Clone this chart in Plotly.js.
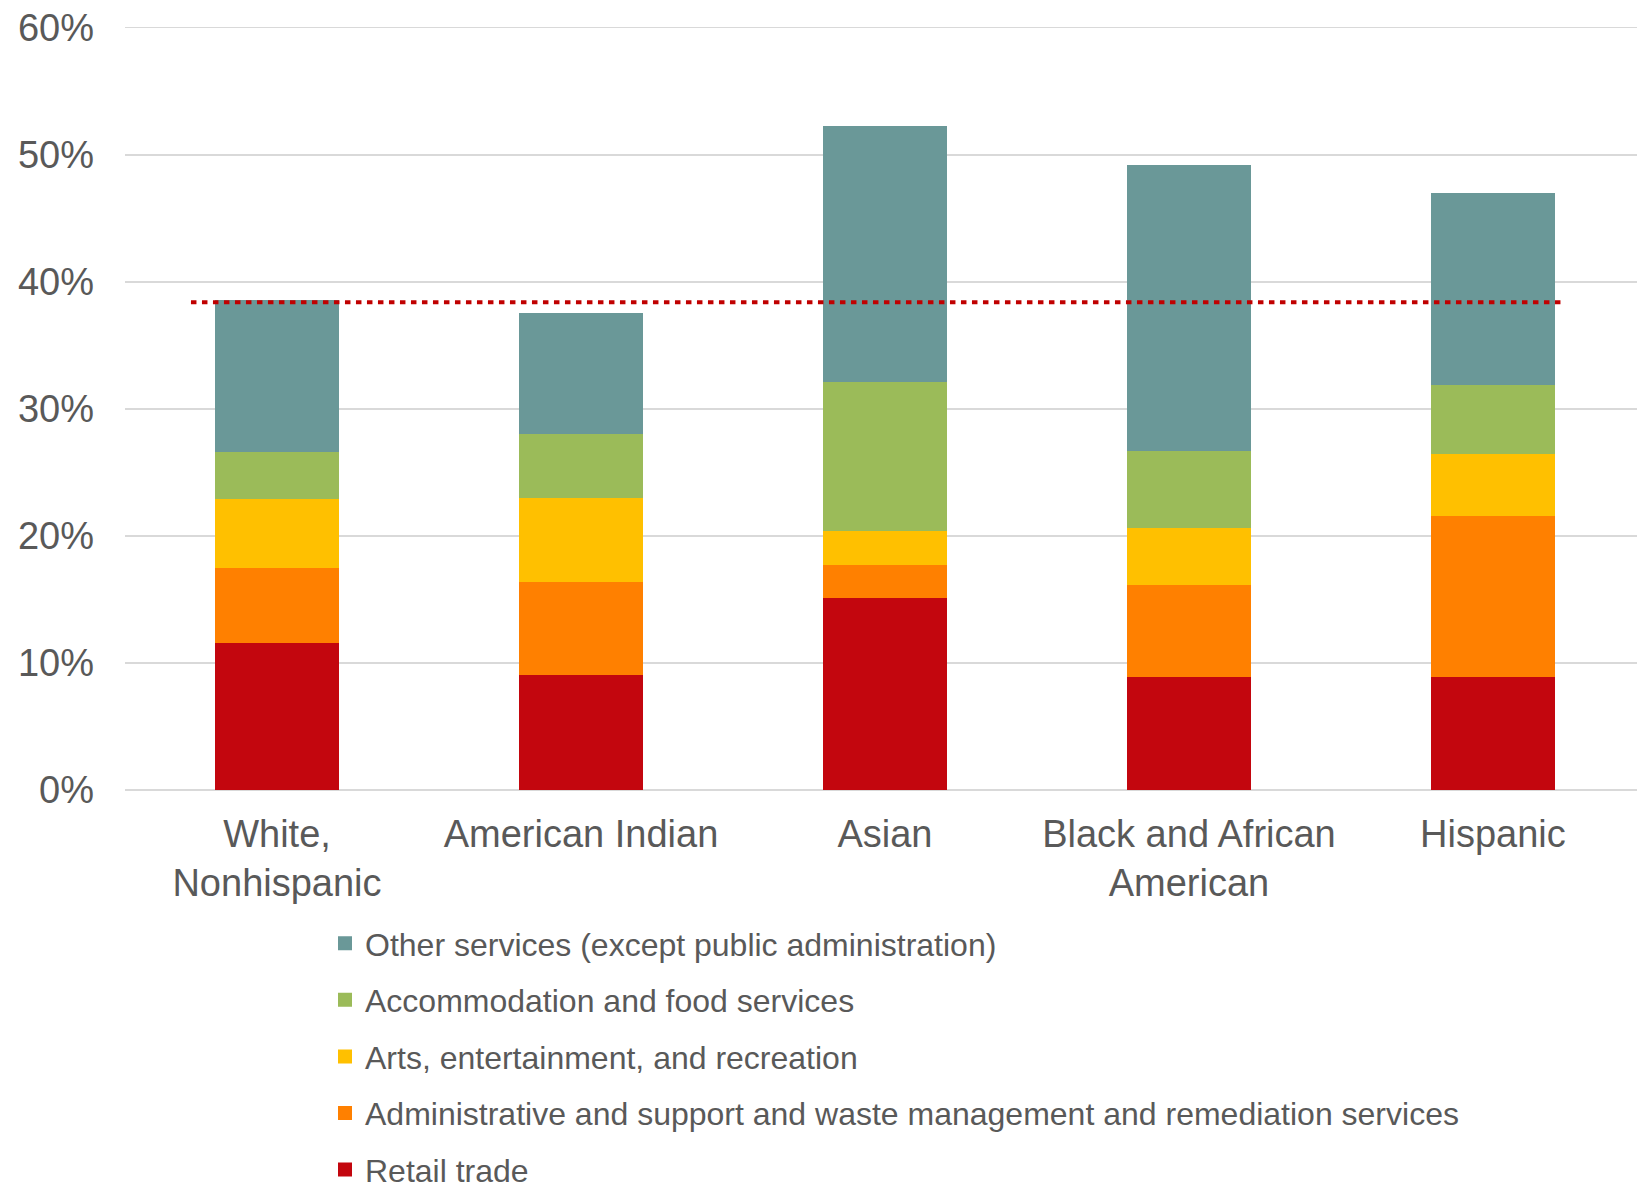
<!DOCTYPE html>
<html>
<head>
<meta charset="utf-8">
<script src="https://cdn.plot.ly/plotly-3.0.1.min.js"></script>
<style>html,body{margin:0;padding:0;background:#fff;}#chart{width:1637px;height:1185px;}</style>
</head>
<body>
<div id="chart"></div>
<script>
// Categories (x-axis)
const categories = ["White,<br>Nonhispanic", "American Indian", "Asian", "Black and African<br>American", "Hispanic"];

// Series values (percent of workers), stacked bottom to top
const retailTrade   = [11.67, 9.11, 15.19, 9.00, 8.96];
const adminSupport  = [5.86, 7.37, 2.62, 7.19, 12.70];
const artsEnt       = [5.43, 6.61, 2.65, 4.51, 4.89];
const accomFood     = [3.70, 4.98, 11.71, 6.04, 5.44];
const otherServices = [11.83, 9.42, 20.04, 22.35, 14.90];

// Y-axis ticks
const yTickValues = [0, 10, 20, 30, 40, 50, 60];
const yTickLabels = ["0%", "10%", "20%", "30%", "40%", "50%", "60%"];

// Reference (average) line value
const averageLine = 38.4;

const seriesNames = [
  "Retail trade",
  "Administrative and support and waste management and remediation services",
  "Arts, entertainment, and recreation",
  "Accommodation and food services",
  "Other services (except public administration)"
];
const seriesValues = [retailTrade, adminSupport, artsEnt, accomFood, otherServices];
const seriesColors = ["#C3060E", "#FF8000", "#FFC000", "#9BBB59", "#6A9898"];

const font = "'Liberation Sans', Arial, sans-serif";
const textColor = "#595959";

const traces = seriesNames.map((name, i) => ({
  type: "bar",
  name: name,
  x: categories,
  y: seriesValues[i],
  width: 0.4,
  legendgroup: "g" + i,
  legendrank: seriesNames.length - i,
  marker: {color: seriesColors[i], line: {color: seriesColors[i], width: 2}},
  hoverinfo: "name+y"
}));

const layout = {
  width: 1637,
  height: 1185,
  barmode: "stack",
  paper_bgcolor: "#fff",
  plot_bgcolor: "#fff",
  margin: {l: 125, r: 0, t: 21, b: 0, autoexpand: false},
  font: {family: font, color: textColor},
  xaxis: {
    type: "category",
    range: [-0.5, 4.474],
    showgrid: false,
    showline: false,
    zeroline: false,
    ticks: "",
    tickfont: {family: font, size: 38, color: textColor},
    ticklabelstandoff: 18,
    fixedrange: true
  },
  yaxis: {
    domain: [0.33935, 1],
    range: [0, 60.53],
    tickvals: yTickValues,
    ticktext: yTickLabels,
    showgrid: true,
    gridcolor: "#D9D9D9",
    gridwidth: 1.5,
    zeroline: true,
    zerolinecolor: "#D9D9D9",
    zerolinewidth: 1.5,
    showline: false,
    ticks: "",
    tickfont: {family: font, size: 38, color: textColor},
    ticklabelstandoff: 30,
    fixedrange: true
  },
  legend: {
    orientation: "v",
    traceorder: "grouped",
    tracegroupgap: 12,
    x: 200 / 1512,
    xanchor: "left",
    y: 0.2312,
    yanchor: "top",
    font: {family: font, size: 32, color: textColor},
    bgcolor: "rgba(0,0,0,0)"
  },
  shapes: [{
    type: "line",
    xref: "x",
    yref: "y",
    x0: -0.283,
    x1: 4.234,
    y0: averageLine,
    y1: averageLine,
    line: {color: "#C00000", width: 4, dash: "5.5px,5.5px"},
    layer: "above"
  }]
};

Plotly.newPlot("chart", traces, layout, {displayModeBar: false, staticPlot: true});
</script>
</body>
</html>
